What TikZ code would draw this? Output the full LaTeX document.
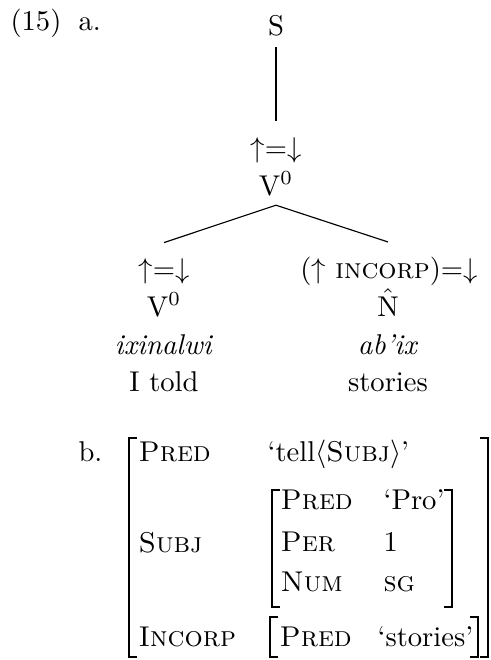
\documentclass[tikz,border=0pt]{standalone}
\usetikzlibrary{calc}
\begin{document}
\begin{tikzpicture}[x=0.3497pt,y=-0.3497pt,
  txt/.style={inner sep=0pt, anchor=base},
  lft/.style={inner sep=0pt, anchor=base west},
  br/.style={line width=0.55pt},
  edge/.style={line width=0.4pt}]
\useasboundingbox (0,0) rectangle (491,660);
% (a) tree
\node[lft] (ex) at (10,30) {(15)};
\node[lft] (a) at (78,30) {a.};
\node[txt] (S) at (276,36) {S};
\node[txt] (t1) at (276,157) {$\uparrow$=$\downarrow$};
\node[txt] (v1) at (276,195) {V$^0$};
\coordinate (apex) at ($(v1.south)+(0,9)$);
\node[txt] (l1) at (164,278) {$\uparrow$=$\downarrow$};
\node[txt] (l2) at (164,316) {V$^0$};
\node[txt] (l3) at (164,354) {\textit{ixinalwi}};
\node[txt] (l4) at (164,391) {I told};
\node[txt] (r1) at (389,278) {($\uparrow$ \textsc{incorp})=$\downarrow$};
\node[txt] (r2) at (388,316) {$\hat{\mathrm{N}}$};
\node[txt] (r3) at (388,354) {\textit{ab'ix}};
\node[txt] (r4) at (388,391) {stories};
\coordinate (stop) at ($(S.south)+(0,10)$);
\coordinate (ttop) at ($(t1.north)+(0,-16)$);
\coordinate (lend) at ($(l1.north)+(0,-15)$);
\coordinate (rend) at ($(r1.north)+(-1,-14)$);
\draw[edge] (stop) -- (ttop);
\draw[edge] (apex) -- (lend);
\draw[edge] (apex) -- (rend);
% (b) f-structure
\node[lft] (b) at (78,461) {b.};
\draw[br] (137,438) -- (129,438) -- (129,657) -- (137,657);
\draw[br] (480,438) -- (488,438) -- (488,657) -- (480,657);
\node[lft] (pred) at (138,461) {\textsc{Pred}};
\node[lft] (tell) at (267,461) {`tell$\langle$\textsc{Subj}$\rangle$'};
\node[lft] (subj) at (138,552) {\textsc{Subj}};
\node[lft] (incorp) at (138,646) {\textsc{Incorp}};
% subj structure
\draw[br] (280,490) -- (272,490) -- (272,607) -- (280,607);
\draw[br] (444,490) -- (452,490) -- (452,607) -- (444,607);
\node[lft] (spred) at (280,509) {\textsc{Pred}};
\node[lft] (spro) at (383,509) {`Pro'};
\node[lft] (sper) at (280,551) {\textsc{Per}};
\node[lft] (sone) at (383,551) {1};
\node[lft] (snum) at (280,591) {\textsc{Num}};
\node[lft] (ssg) at (383,591) {\textsc{sg}};
% incorp structure
\draw[br] (278,617) -- (270,617) -- (270,657) -- (278,657);
\draw[br] (470,617) -- (478,617) -- (478,657) -- (470,657);
\node[lft] (ipred) at (279,646) {\textsc{Pred}};
\node[lft] (istor) at (377,646) {`stories'};
\end{tikzpicture}
\end{document}
